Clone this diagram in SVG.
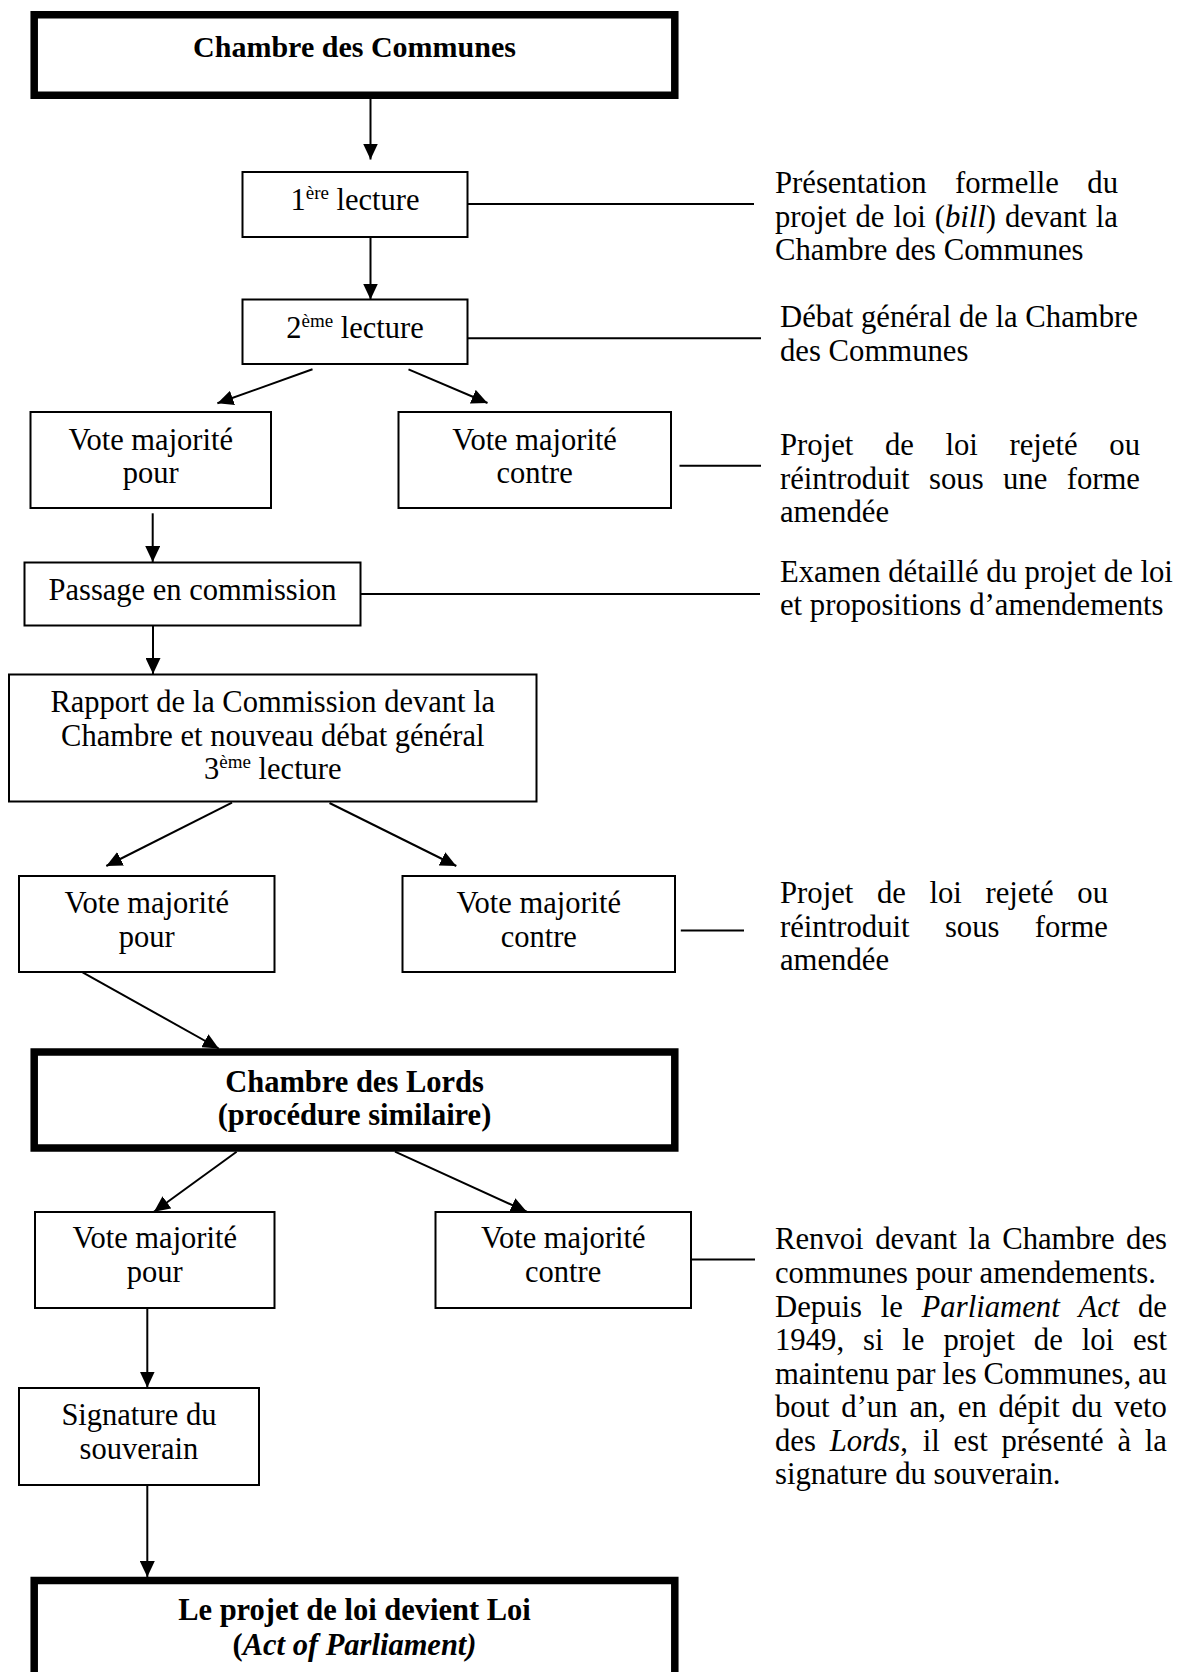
<svg xmlns="http://www.w3.org/2000/svg" width="1177" height="1672" viewBox="0 0 1177 1672">
<style>
text{font-family:"Liberation Serif","Times New Roman",serif;fill:#000}
.l{font-size:30.5px;text-anchor:middle}
.r{font-size:30.7px}
.b{font-weight:bold}
.i{font-style:italic}
.sup{font-size:19px}
.box{fill:#fff;stroke:#000;stroke-width:2}
.thick{fill:#fff;stroke:#000;stroke-width:7.5}
.ln{stroke:#000;stroke-width:2;fill:none}
.ar{stroke:#000;stroke-width:2;fill:none;marker-end:url(#ah)}
</style>
<defs>
<marker id="ah" markerUnits="userSpaceOnUse" markerWidth="16" markerHeight="15" refX="16" refY="7.5" orient="auto">
<path d="M0,0 L16,7.5 L0,15 z" fill="#000"/>
</marker>
</defs>
<rect width="1177" height="1672" fill="#fff"/>

<g id="connectors">
<line class="ar" x1="370.5" y1="99" x2="370.5" y2="159.5"/>
<line class="ar" x1="370.5" y1="237" x2="370.5" y2="299.5"/>
<line class="ar" x1="312.5" y1="369.3" x2="217.4" y2="403.3"/>
<line class="ar" x1="408.5" y1="369.3" x2="487.5" y2="403"/>
<line class="ar" x1="152.7" y1="513.3" x2="152.7" y2="562"/>
<line class="ar" x1="153" y1="625.7" x2="153" y2="674"/>
<line class="ar" x1="232" y1="802.7" x2="106.3" y2="866"/>
<line class="ar" x1="329.5" y1="803" x2="456.3" y2="866"/>
<line class="ar" x1="82.6" y1="972.3" x2="218.75" y2="1048.5"/>
<line class="ar" x1="236.6" y1="1151.7" x2="154" y2="1211.7"/>
<line class="ar" x1="395" y1="1151.7" x2="526.8" y2="1211.7"/>
<line class="ar" x1="147.3" y1="1308.3" x2="147.3" y2="1387.5"/>
<line class="ar" x1="147.3" y1="1485" x2="147.3" y2="1577"/>
<line class="ln" x1="467.5" y1="204" x2="754" y2="204"/>
<line class="ln" x1="467.5" y1="338.3" x2="761" y2="338.3"/>
<line class="ln" x1="679.5" y1="465.7" x2="761" y2="465.7"/>
<line class="ln" x1="360.7" y1="594" x2="760" y2="594"/>
<line class="ln" x1="680.8" y1="930.5" x2="744" y2="930.5"/>
<line class="ln" x1="691" y1="1259.5" x2="755" y2="1259.5"/>
</g>

<g id="n-communes">
<rect class="thick" x="34.2" y="14.75" width="640.6" height="80.5"/>
<text class="l b" x="354.5" y="57" style="font-size:30px">Chambre des Communes</text>
</g>
<g id="n-lecture1">
<rect class="box" x="242.5" y="172" width="225" height="65"/>
<text class="l" x="355" y="210">1<tspan class="sup" dy="-11">ère</tspan><tspan dy="11"> lecture</tspan></text>
</g>
<g id="n-lecture2">
<rect class="box" x="242.5" y="299.5" width="225" height="64.5"/>
<text class="l" x="355" y="338.3">2<tspan class="sup" dy="-11">ème</tspan><tspan dy="11"> lecture</tspan></text>
</g>
<g id="n-pour1">
<rect class="box" x="30.5" y="412" width="240.5" height="96"/>
<text class="l" x="150.7" y="450">Vote majorité</text>
<text class="l" x="150.7" y="483.3">pour</text>
</g>
<g id="n-contre1">
<rect class="box" x="398.5" y="412" width="272.5" height="96"/>
<text class="l" x="534.6" y="450">Vote majorité</text>
<text class="l" x="534.6" y="483.3">contre</text>
</g>
<g id="n-commission">
<rect class="box" x="24.5" y="562.5" width="336" height="63"/>
<text class="l" x="192.6" y="600">Passage en commission</text>
</g>
<g id="n-rapport">
<rect class="box" x="9" y="674.5" width="527.5" height="127"/>
<text class="l" x="272.8" y="711.7">Rapport de la Commission devant la</text>
<text class="l" x="272.8" y="745.7">Chambre et nouveau débat général</text>
<text class="l" x="272.8" y="779.3">3<tspan class="sup" dy="-11">ème</tspan><tspan dy="11"> lecture</tspan></text>
</g>
<g id="n-pour2">
<rect class="box" x="19" y="876" width="255.5" height="96"/>
<text class="l" x="146.7" y="913.3">Vote majorité</text>
<text class="l" x="146.7" y="946.7">pour</text>
</g>
<g id="n-contre2">
<rect class="box" x="402.5" y="876" width="272.5" height="96"/>
<text class="l" x="538.8" y="913.3">Vote majorité</text>
<text class="l" x="538.8" y="946.7">contre</text>
</g>
<g id="n-lords">
<rect class="thick" x="34.2" y="1052" width="640.6" height="96"/>
<text class="l b" x="354.5" y="1091.7">Chambre des Lords</text>
<text class="l b" x="354.5" y="1124.5">(procédure similaire)</text>
</g>
<g id="n-pour3">
<rect class="box" x="35" y="1212" width="239.5" height="96"/>
<text class="l" x="154.7" y="1248.3">Vote majorité</text>
<text class="l" x="154.7" y="1281.7">pour</text>
</g>
<g id="n-contre3">
<rect class="box" x="435.5" y="1212" width="255.5" height="96"/>
<text class="l" x="563.2" y="1248.3">Vote majorité</text>
<text class="l" x="563.2" y="1281.7">contre</text>
</g>
<g id="n-signature">
<rect class="box" x="19" y="1388" width="240" height="97"/>
<text class="l" x="138.9" y="1425">Signature du</text>
<text class="l" x="138.9" y="1459">souverain</text>
</g>
<g id="n-loi">
<rect class="thick" x="34.2" y="1580.5" width="640.6" height="200"/>
<text class="l b" x="354.5" y="1620">Le projet de loi devient Loi</text>
<text class="l b" x="354.5" y="1655">(<tspan class="i">Act of Parliament)</tspan></text>
</g>

<g id="note-lecture1">
<text class="r" y="193"><tspan x="775">Présentation</tspan><tspan x="955">formelle</tspan><tspan x="1087.3">du</tspan></text>
<text class="r" y="226.5"><tspan x="775">projet</tspan><tspan x="855.5">de</tspan><tspan x="893.4">loi</tspan><tspan x="934.7">(<tspan class="i">bill</tspan>)</tspan><tspan x="1005">devant</tspan><tspan x="1095.7">la</tspan></text>
<text class="r" x="775" y="260">Chambre des Communes</text>
</g>
<g id="note-lecture2">
<text class="r" x="780" y="327">Débat général de la Chambre</text>
<text class="r" x="780" y="360.5">des Communes</text>
</g>
<g id="note-contre1">
<text class="r" y="455"><tspan x="780">Projet</tspan><tspan x="884.9">de</tspan><tspan x="945.5">loi</tspan><tspan x="1009.5">rejeté</tspan><tspan x="1109.3">ou</tspan></text>
<text class="r" y="488.5"><tspan x="780">réintroduit</tspan><tspan x="929">sous</tspan><tspan x="1003">une</tspan><tspan x="1066.7">forme</tspan></text>
<text class="r" x="780" y="522">amendée</text>
</g>
<g id="note-commission">
<text class="r" x="780" y="581.7">Examen détaillé du projet de loi</text>
<text class="r" x="780" y="615">et propositions d’amendements</text>
</g>
<g id="note-contre2">
<text class="r" y="903"><tspan x="780">Projet</tspan><tspan x="876.9">de</tspan><tspan x="929.5">loi</tspan><tspan x="985.5">rejeté</tspan><tspan x="1077.3">ou</tspan></text>
<text class="r" y="936.5"><tspan x="780">réintroduit</tspan><tspan x="944.9">sous</tspan><tspan x="1034.7">forme</tspan></text>
<text class="r" x="780" y="970">amendée</text>
</g>
<g id="note-contre3">
<text class="r" y="1249"><tspan x="775">Renvoi</tspan><tspan x="875.2">devant</tspan><tspan x="968.5">la</tspan><tspan x="1002.2">Chambre</tspan><tspan x="1126.1">des</tspan></text>
<text class="r" x="775" y="1283">communes pour amendements.</text>
<text class="r" y="1316.5"><tspan x="775">Depuis</tspan><tspan x="880.7">le</tspan><tspan x="921.6" class="i">Parliament</tspan><tspan x="1078.5" class="i">Act</tspan><tspan x="1138">de</tspan></text>
<text class="r" y="1350"><tspan x="775">1949,</tspan><tspan x="863">si</tspan><tspan x="902.3">le</tspan><tspan x="943.4">projet</tspan><tspan x="1033.8">de</tspan><tspan x="1081.7">loi</tspan><tspan x="1132.9">est</tspan></text>
<text class="r" y="1383.5"><tspan x="775">maintenu</tspan><tspan x="896.3">par</tspan><tspan x="942.5">les</tspan><tspan x="983.6">Communes,</tspan><tspan x="1138">au</tspan></text>
<text class="r" y="1417"><tspan x="775">bout</tspan><tspan x="841.3">d’un</tspan><tspan x="909.4">an,</tspan><tspan x="957.8">en</tspan><tspan x="998.5">dépit</tspan><tspan x="1071.6">du</tspan><tspan x="1114.1">veto</tspan></text>
<text class="r" y="1450.5"><tspan x="775">des</tspan><tspan x="829.7"><tspan class="i">Lords</tspan>,</tspan><tspan x="922.7">il</tspan><tspan x="953.6">est</tspan><tspan x="1001.4">présenté</tspan><tspan x="1117.5">à</tspan><tspan x="1144.8">la</tspan></text>
<text class="r" x="775" y="1484">signature du souverain.</text>
</g>
</svg>
